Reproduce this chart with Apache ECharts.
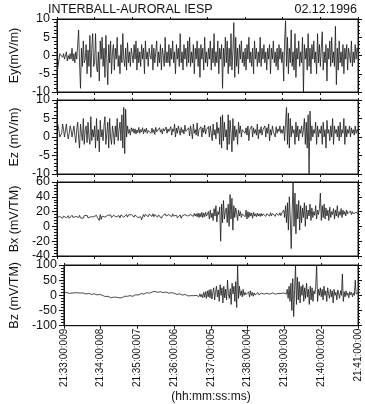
<!DOCTYPE html>
<html>
<head>
<meta charset="utf-8">
<script src="https://cdn.jsdelivr.net/npm/echarts@6/dist/echarts.min.js"></script>
<style>
  html, body { margin: 0; padding: 0; background: #fff; }
  #chart { width: 365px; height: 404px; }
</style>
</head>
<body>
<div id="chart"></div>
<script>
// time tick labels, one per minute (21:33 .. 21:41)
const timeLabels = ["21:33:00:009", "21:34:00:008", "21:35:00:007", "21:36:00:006",
  "21:37:00:005", "21:38:00:004", "21:39:00:003", "21:40:00:002", "21:41:00:00"];
const stepSec = 1.5; // one sample every 1.5 s, 40 per minute

// Ey (mV/m), rows of half a minute
const ey = [
  -5, -5, -4.5, 0.5, 1, 0.8, -0.5, 0.5, -1, -0.5, 1, -1.5, 0, -1, 0.5, -1, 2, -1.5, 0.5, -2,
  1, -1, 3, 7, -2, -9, 2, -3, 4, -2, -1, 3, -5, 1.5, -3, 5.5, -6, 2, 6, -3,
  -2, 6, -3, -4.5, 1, -7, 4, -1, 5, -3, 2, -6, 5.5, -1, -8, 3, -2, 4, -5, 1,
  3, -4, 2, -1, 5, -3, 0, -5, 3, -2, 6, -1, -3, 2, -4, 3.5, -2, 1, -3, 2,
  0, -2, 3, -1, 4, -4, 2, -2, 1, -3, 3, -1, 2, -5, 4, -1, 1, -3, 2, 0,
  -1, 3, -4, 2, -2, 1, 4, -3, 1, -2, 3, -4, 2, 0, -3, 5, -2, 1, -2, 3,
  -3, 2, -1, 4, -2, 1, -5, 3, -1, 2, -3, 6, -2, 1, -4, 3, -1, 2, -3, 4,
  -2, 5, -3, 1, -2, 3, -5, 2, -1, 4, -3, 2, -6, 3, -1, 2, -4, 5, -2, 1,
  -3, 2, -1, 4, -4, 2, -2, 6, -3, 1, -2, 4, -5, 2, -1, 3, -9, 2, -3, 5,
  -2, 4, -5, 2, -3, 6, -4, 1, 9, -6, 5, -3, 2, -5, 3, -1, 4, -2, 1, -3,
  2, -4, 3, -1, 5, -2, 1, -3, 2, -5, 4, -1, 2, -3, 1, -2, 5, -3, 2, -1,
  3, -2, 1, -4, 2, -1, 3, -5, 2, -1, 4, -2, 1, -3, 2, -4, 3, -1, 2, -2,
  1, -7, 4, 9.5, -3, 5, -5, 2, -2, 7, -3, 1, -4, 6, -6, 2, -1, 4, -3, 1,
  -2, 5, -10, 3, -1, 2, -4, 6, -3, 2, -5, 3, -1, 4, -2, 1, -5, 6, -2, 3,
  -3, 2, 6.5, -4, 1, -2, 3, -7, 2, -1, 4, -3, 5, -2, 1, -3, 8, -8, 2, -4,
  4, -2, 1, -3, 3, -5, 2, -1, 3, -4, 2, 0, -2, 4, -3, 1, -2, 3, -1, 2,
  1
];

// Ez (mV/m)
const ez = [
  4.5, 4.5, 2, 0, -0.5, 1, 3.5, 2, 0, 0.5, 3.5, 1, -0.5, 1, 3, 2, 0, 1.5, 3, 0.5,
  -1.5, 2, 4, 0, -3, 3.5, 1, -1, 5, -2, 2, 3, -1.5, 4, 0, -2, 5.5, -1, 2, 0,
  3, -3, 5, -1, 2, -4, 4.5, 0, 2, -1, 3, 5.5, -2, 1, 4, -3, 5, 0, -2, 3,
  1, -2, 3, 0, 5, -1, 2, 4, -1, 6, -3, 8, -4.5, 7.5, 0, 3, 1, 2, 0.5, 2.5,
  1.5, 2.3, 1, 2.2, 0.8, 1.9, 1.2, 2.6, 1, 2, 1.4, 2.5, 0.9, 2.1, 1.3, 2.4, 1, 1.8, 1.5, 2.2,
  1, 2.4, 1.2, 2, 0.7, 2.6, 1.4, 1.8, 1, 2.5, 1.3, 2, 0.8, 2.3, 1.6, 1.2, 2.7, 1, 2.2, 1.5,
  1, 2.8, 0.5, 2.2, 1.5, 3.5, 0, 2.4, 1, 3, 1.8, 0.5, 2.6, 1.2, 2, 0.8, 3.2, 1.5, 2, 1.2,
  2.5, 0.3, 3, 1.5, -0.5, 3.5, 1, 2, 0.5, 3.8, 0.2, 2, 1.5, 2.8, 0, 2.5, 1.2, 3.2, 0.8, 2,
  1.5, 2.8, 0, 3, 1, -1, 3.5, 0.5, 2, -0.5, 4, 1, 2.5, -2, 5.5, -3, 6, -1, 4, 0,
  2, -3.5, 6, -2, 4.5, 1, -4, 5, -1, 3, 0, 2, -2, 4, 1, 3, 0, 2, 1.5, 2.5,
  1, 2.5, 0.5, 3, -1, 2, 1.5, 3, 0, 2.5, 1, 2, 0.5, 3.5, -0.5, 2, 1, 2.8, 0.5, 2,
  1.5, 3, 0, 2.5, 1, 3.5, -1, 2, 0.5, 3, 1.5, 2, 0, 2.8, 1, 2.2, 1.5, 3, 1, 2,
  1, 3, -1, 4, 8, -2, 6.5, -3, 5, 0, 3, 1, 2, -2, 4, 0, 3, -1, 2, 1,
  3, 0, 2, 5, -2, 4, -3, 6, -10, 7, -1, 3, 0, 2, 1, 4, -2, 3, 0, 2,
  1, 3, -2, 4, 0, 2, -3, 4.5, 1, 2, -1, 3, 0, 5, -2, 3, 1, 2, 0, 3,
  -1, 4, 0, 2, 1, 5, -2, 3, 0, 2, 1, 3, 0, 2.5, 1, 2, 0.5, 3, 1, 2,
  1.5
];

// Bx (mV/TM)
const bx = [
  12, 14.5, 11.5, 13.5, 12, 15, 11, 14, 12.5, 15, 11.5, 13, 14.5, 11, 13.5, 12, 15, 12, 14, 11.5,
  13.5, 11, 14.5, 12, 15, 11.5, 13, 14, 11, 14.5, 12, 13.5, 15, 11.5, 14, 12, 13, 14.5, 11.5, 13,
  14, 11.5, 15, 12, 14.5, 8, 16, 9.5, 14, 12, 15, 12.5, 14.5, 11.5, 15, 12.5, 14, 15.5, 12, 14,
  15, 12.5, 16, 13, 15.5, 12, 14.5, 11.5, 15.5, 13, 16, 12.5, 15, 13.5, 16, 12.5, 15.5, 13, 14.5, 16,
  13.5, 16, 12.5, 15.5, 13, 16.5, 12, 14.5, 11, 13, 9, 12.5, 16, 13, 16.5, 14, 15.5, 13, 16.5, 14,
  16.5, 13.5, 17, 13, 16, 14, 17, 12.5, 15.5, 13, 16, 11, 14, 16, 13, 17, 14, 15.5, 13, 16,
  14, 16.5, 13, 17, 14, 15.5, 12.5, 15, 11.5, 14, 12, 15.5, 11, 14, 15.5, 12.5, 16, 13.5, 15.5, 14,
  16.5, 13, 16, 14, 17, 13.5, 17.5, 14, 17, 13, 18, 12, 17.5, 13, 19, 12, 18, 13, 19, 14,
  15, 20, 10, 22, 12, 18, 8, 24, 14, 28, 6, 20, 16, 26, -20, 30, 5, 35, 10, 20,
  25, 5, 30, 0, 43, 10, 38, -5, 28, 12, 25, 18, 8, 22, 14, 20, 12, 17, 15, 18,
  13, 22, 10, 20, 12, 19, 14, 18, 11, 19, 14, 17, 13, 18, 14, 17, 13.5, 17.5, 14, 17,
  14.5, 18, 13.5, 17, 15, 18, 14, 18.5, 14, 17.5, 15, 18, 13.5, 17.5, 15, 18, 15, 18.5, 14.5, 18,
  18, 22, 12, 28, 5, 32, -5, 40, 10, -30, 20, 60, 0, 45, -10, 30, 10, 35, -5, 28,
  5, 25, 12, 32, 0, 28, 10, 22, 14, 30, 8, 25, 12, 20, 15, 28, 10, 22, 16, 24,
  45, 8, 28, 12, 30, 10, 25, 14, 22, 8, 26, 12, 20, 16, 24, 10, 22, 14, 28, 12,
  20, 15, 24, 12, 22, 16, 20, 14, 22, 17, 19, 15, 21, 16, 20, 17, 18, 16, 19, 17,
  17
];

// Bz (mV/TM)
const bz = [
  8, 10, 7, 9.5, 8, 10.5, 6.5, 9, 10, 7.5, 9, 6.5, 8.5, 10, 7, 8.5, 6, 9, 7.5, 8,
  6, 8, 5.5, 7.5, 4.5, 7, 4, 6.5, 3.5, 6, 3, 5.5, 2.5, 5, 2, 4.5, 1.5, 4, 1, 3,
  1, -1, 0, -3, -1, -4, -2, -5, -3, -6, -4, -8, -5, -9, -6, -8, -10, -6, -9, -5,
  -8, -9, -5, -8, -4, -7, -3, -6, -7, -3, -5, -4, -1, -4, 0, -3, 1, -2, 2, 1,
  3, 1, 5, 2, 6, 3, 7, 4, 8, 5, 9, 6, 10, 7, 11, 8, 11, 10, 9, 13,
  10, 13, 10, 13, 9, 12, 11, 13, 9, 11, 8, 11, 7, 10, 7, 9, 6, 9, 5, 8,
  7, 4, 7, 3, 6, 2, 5, 2, 4, 1, 3, 0, 3, -1, 2, -2, 1, -2, -1, 0,
  -2, -1, -3, -2, 0, -3, 2, -4, 5, -5, 3, -8, 10, -6, 12, -10, 15, -5, 18, -8,
  20, -12, 8, 25, -15, 10, 30, -5, 18, -20, 35, 0, 25, -25, 30, -8, 20, -15, 50, 5,
  -10, 22, -30, 40, 5, 30, -20, 45, -40, 100, -10, 30, 0, 15, -5, 20, 0, 10, 2, 8,
  3, 12, -5, 15, 0, 10, -3, 8, 1, 7, 3, 9, 2, 8, 4, 7, 3, 8, 4, 7,
  4, 7, 3, 8, 4, 7, 4, 8, 3, 7, 4, 8, 5, 6, 8, 5, 6, 9, 5, 8,
  8, 12, 4, 20, -10, 30, -20, 40, -50, 55, -70, 20, 100, -30, 60, -15, 45, -25, 30, 0,
  35, -20, 25, -10, 40, -5, 20, -30, 30, -15, 25, -20, 15, 5, 30, 100, -20, 20, 0, 25,
  -5, 20, -15, 30, 0, 15, -20, 25, 5, -10, 20, -5, 15, -25, 20, 0, 10, -15, 18, 5,
  -10, 15, 0, 70, -20, 12, -5, 15, 0, 8, -8, 12, 2, 10, -5, 8, 0, 50, 5, 10,
  8
];

const panels = [
  { name: "Ey(mV/m)", data: ey, min: -10, max: 10, interval: 5, top: 19, height: 73 },
  { name: "Ez (mV/m)", data: ez, min: -10, max: 10, interval: 5, top: 100, height: 74 },
  { name: "Bx (mV/TM)", data: bx, min: -40, max: 60, interval: 20, top: 182, height: 74 },
  { name: "Bz (mV/TM)", data: bz, min: -100, max: 100, interval: 50, top: 265, height: 75 }
];

const chart = echarts.init(document.getElementById("chart"));
const font = "Liberation Sans, Arial, sans-serif";
const ink = "#111";

const grid = [], xAxis = [], yAxis = [], series = [];
panels.forEach((p, i) => {
  const last = i === panels.length - 1;
  grid.push({ left: 48, right: 7, top: p.top, height: p.height,
    show: true, borderColor: ink, borderWidth: 1 });
  // bottom time axis
  xAxis.push({
    type: "value", gridIndex: i, min: 0, max: 480, interval: 60,
    axisLine: { onZero: false, lineStyle: { color: ink } },
    axisTick: { length: 3, lineStyle: { color: ink } },
    splitLine: { show: false },
    axisLabel: {
      show: last, rotate: 90, fontSize: 10, fontFamily: font, color: ink, margin: 3,
      formatter: v => timeLabels[Math.round(v / 60)] || ""
    },
    name: last ? "(hh:mm:ss:ms)" : "", nameLocation: "middle", nameGap: 60,
    nameTextStyle: { fontSize: 12, fontFamily: font, color: ink }
  });
  // top edge ticks
  xAxis.push({
    type: "value", gridIndex: i, position: "top", min: 0, max: 480, interval: 60,
    axisLine: { onZero: false, lineStyle: { color: ink } },
    axisTick: { length: 2, lineStyle: { color: ink } },
    axisLabel: { show: false }, splitLine: { show: false }
  });
  yAxis.push({
    type: "value", gridIndex: i, min: p.min, max: p.max, interval: p.interval,
    name: p.name, nameLocation: "middle", nameRotate: 90, nameGap: 31,
    nameTextStyle: { fontSize: 12.5, fontFamily: font, color: ink },
    axisLine: { show: true, onZero: false, lineStyle: { color: ink } },
    axisTick: { length: 5, lineStyle: { color: ink } },
    minorTick: { show: true, splitNumber: 5, length: 3, lineStyle: { color: ink } },
    splitLine: { show: false },
    axisLabel: { fontSize: 12.5, fontFamily: font, color: ink, margin: 7 }
  });
  // right edge ticks
  yAxis.push({
    type: "value", gridIndex: i, position: "right", min: p.min, max: p.max, interval: p.interval,
    axisLine: { show: true, onZero: false, lineStyle: { color: ink } },
    axisTick: { length: 4, lineStyle: { color: ink } },
    minorTick: { show: true, splitNumber: 5, length: 2, lineStyle: { color: ink } },
    axisLabel: { show: false }, splitLine: { show: false }
  });
  series.push({
    type: "line", xAxisIndex: i * 2, yAxisIndex: i * 2,
    data: p.data.map((v, k) => [k * stepSec, v]),
    showSymbol: false, symbol: "none", animation: false,
    lineStyle: { color: "#1a1a1a", width: 0.8 }
  });
});

chart.setOption({
  backgroundColor: "#fff",
  animation: false,
  title: [
    { text: "INTERBALL-AURORAL IESP", left: 48, top: 3, padding: 0,
      textStyle: { fontSize: 12.5, fontWeight: "normal", fontFamily: font, color: ink } },
    { text: "02.12.1996", right: 8, top: 3, padding: 0,
      textStyle: { fontSize: 12.5, fontWeight: "normal", fontFamily: font, color: ink } }
  ],
  grid, xAxis, yAxis, series
});
</script>
</body>
</html>
